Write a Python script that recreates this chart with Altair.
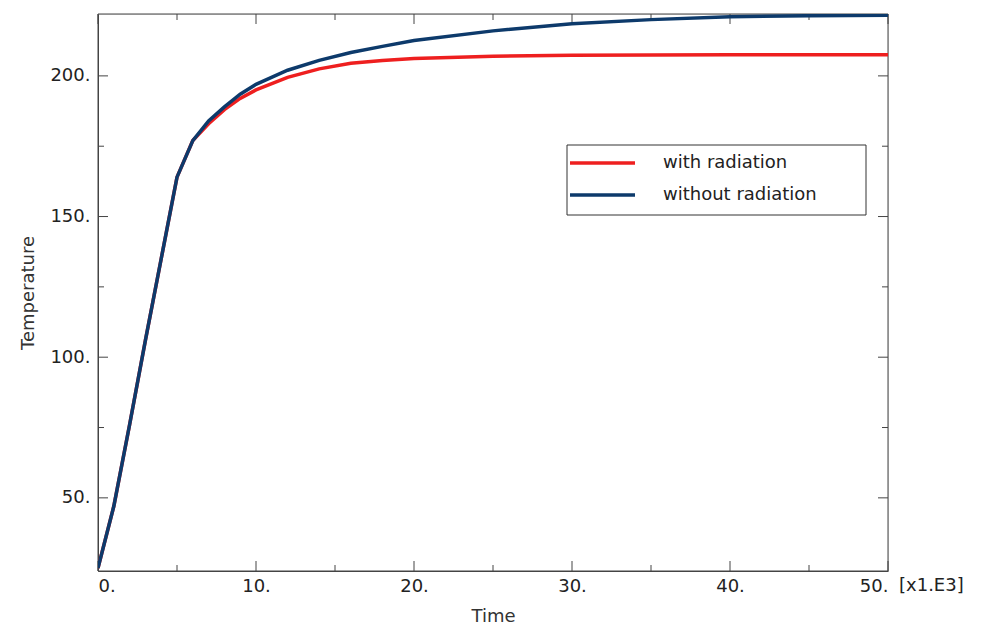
import altair as alt
import pandas as pd

time = [0, 1, 2, 3, 4, 5, 6, 7, 8, 9, 10, 12, 14, 16, 18, 20, 25, 30, 35, 40, 45, 50]
with_rad = [25, 47, 76, 106, 135, 164, 177, 183, 188, 192, 195, 199.5, 202.5, 204.5, 205.5, 206.2, 207, 207.3, 207.4, 207.5, 207.5, 207.5]
without_rad = [25, 47, 76, 106, 135, 164, 177, 184, 189, 193.5, 197, 202, 205.5, 208.3, 210.5, 212.6, 216, 218.5, 220, 221, 221.4, 221.6]
series_names = ["with radiation", "without radiation"]
colors = ["#ee1f1f", "#0d3a6b"]
x_major = [0, 10, 20, 30, 40, 50]
x_minor = [5, 15, 25, 35, 45]
y_major = [50, 100, 150, 200]
y_minor = [75, 125, 175]

W, H = 790, 557
rows = []
for t, a, b in zip(time, with_rad, without_rad):
    rows.append({"t": t, "T": a, "s": series_names[0]})
    rows.append({"t": t, "T": b, "s": series_names[1]})
df = pd.DataFrame(rows)

xs = alt.Scale(domain=[0, 50], nice=False)
ys = alt.Scale(domain=[24, 222], nice=False)
F = "DejaVu Sans"

lines = alt.Chart(df).mark_line(strokeWidth=3.5, clip=True).encode(
    x=alt.X("t:Q", scale=xs, title="Time",
            axis=alt.Axis(values=x_major, labelExpr="datum.value + '.'", ticks=False, grid=False,
                          domainColor="#444", labelFont=F, labelFontSize=18, labelColor="#222", labelPadding=6,
                          titleFont=F, titleFontSize=18, titleFontWeight="normal", titleColor="#333", titlePadding=12)),
    y=alt.Y("T:Q", scale=ys, title="Temperature",
            axis=alt.Axis(values=y_major, labelExpr="datum.value + '.'", ticks=False, grid=False,
                          domainColor="#444", labelFont=F, labelFontSize=18, labelColor="#222", labelPadding=8,
                          titleFont=F, titleFontSize=18, titleFontWeight="normal", titleColor="#333", titlePadding=12)),
    color=alt.Color("s:N", scale=alt.Scale(domain=series_names, range=colors), legend=None),
)

ticks = []
for v in x_major:
    ticks.append({"axis": "x", "v": v, "L": 10})
for v in x_minor:
    ticks.append({"axis": "x", "v": v, "L": 6})
for v in y_major:
    ticks.append({"axis": "y", "v": v, "L": 10})
for v in y_minor:
    ticks.append({"axis": "y", "v": v, "L": 6})
tdf = pd.DataFrame(ticks)
tx = tdf[tdf.axis == "x"]
ty = tdf[tdf.axis == "y"]
tk = dict(color="#444", strokeWidth=1)

def xt(d, L):
    return [alt.Chart(d).mark_rule(**tk).encode(x=alt.X("v:Q", scale=xs), y=alt.value(H), y2=alt.value(H - L)),
            alt.Chart(d).mark_rule(**tk).encode(x=alt.X("v:Q", scale=xs), y=alt.value(0), y2=alt.value(L))]
def yt(d, L):
    return [alt.Chart(d).mark_rule(**tk).encode(y=alt.Y("v:Q", scale=ys), x=alt.value(0), x2=alt.value(L)),
            alt.Chart(d).mark_rule(**tk).encode(y=alt.Y("v:Q", scale=ys), x=alt.value(W), x2=alt.value(W - L))]
tick_layers = (xt(tx[tx.L == 10], 10) + xt(tx[tx.L == 6], 6) +
               yt(ty[ty.L == 10], 10) + yt(ty[ty.L == 6], 6))

frame = alt.Chart(pd.DataFrame({"a": [0]})).mark_rect(fill=None, stroke="#444", strokeWidth=1).encode(
    x=alt.value(0), x2=alt.value(W), y=alt.value(0), y2=alt.value(H))

leg_df = pd.DataFrame({"s": series_names, "c": colors, "yy": [149, 181]})
leg_box = alt.Chart(pd.DataFrame({"a": [0]})).mark_rect(fill="white", stroke="#333", strokeWidth=1).encode(
    x=alt.value(469), x2=alt.value(768), y=alt.value(131), y2=alt.value(201))
leg_lines = [alt.Chart(leg_df.iloc[[i]]).mark_rule(strokeWidth=3.5, color=colors[i]).encode(
    x=alt.value(472), x2=alt.value(537), y=alt.value(int(leg_df.yy[i]))) for i in range(2)]
leg_text = [alt.Chart(leg_df.iloc[[i]]).mark_text(align="left", baseline="middle", font=F, fontSize=18, color="#222").encode(
    x=alt.value(565), y=alt.value(int(leg_df.yy[i])), text="s:N") for i in range(2)]

unit = alt.Chart(pd.DataFrame({"u": ["[x1.E3]"]})).mark_text(align="left", baseline="top", font=F, fontSize=18, color="#222").encode(
    x=alt.value(801), y=alt.value(H + 6), text="u:N")

chart = alt.layer(frame, *tick_layers, lines, leg_box, *leg_lines, *leg_text, unit).properties(
    width=W, height=H, autosize="none",
    padding={"left": 90, "top": 6, "right": 103, "bottom": 61},
).configure_view(stroke=None).configure(background="white")

chart.save("out.html", embed_options={"renderer": "svg", "actions": False})
